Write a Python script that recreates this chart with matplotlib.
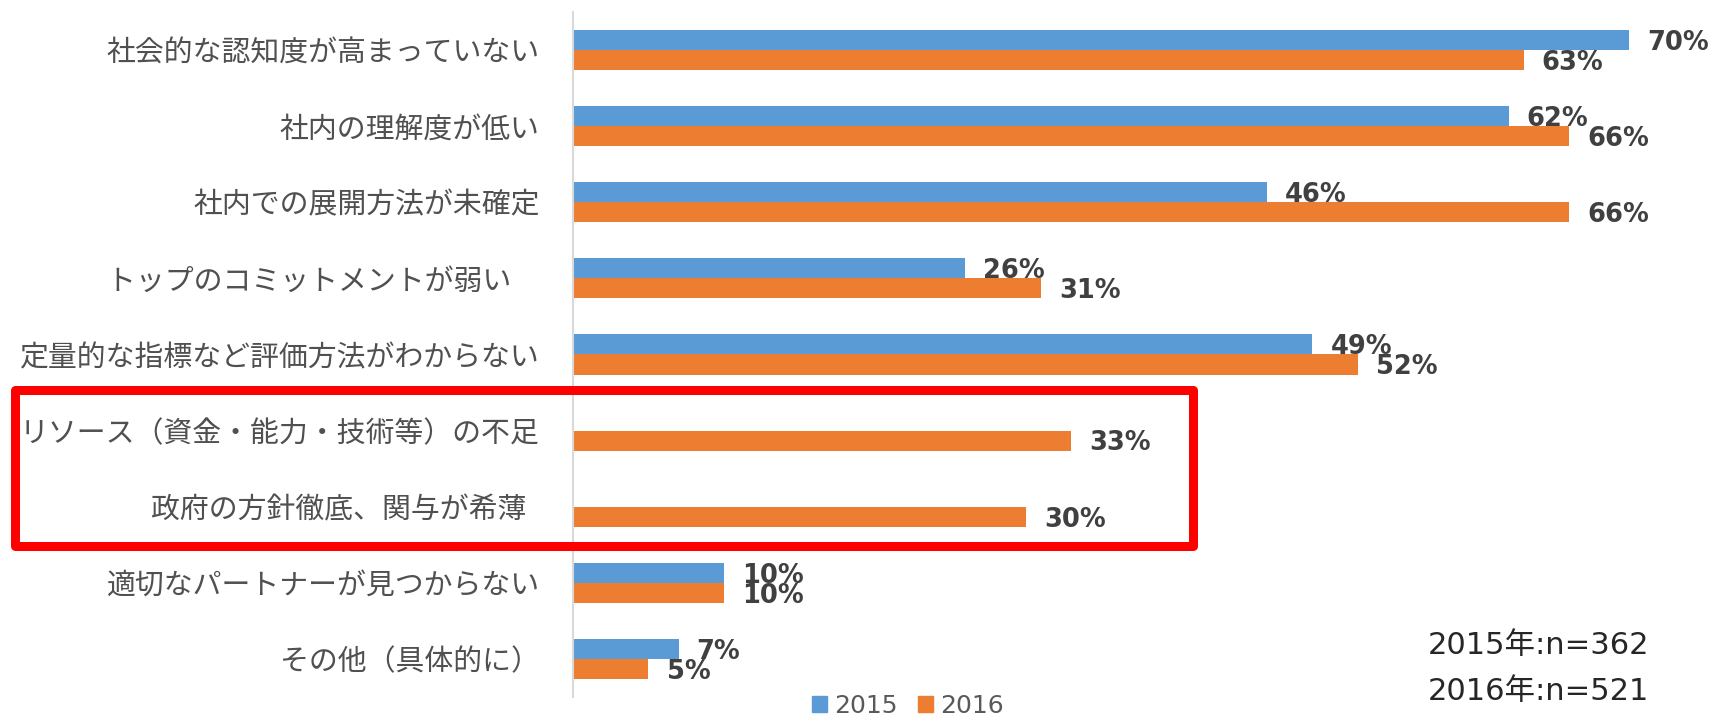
import numpy as np
import matplotlib.pyplot as plt
from matplotlib.patches import Rectangle, Patch

categories = [
    '社会的な認知度が高まっていない',
    '社内の理解度が低い',
    '社内での展開方法が未確定',
    'トップのコミットメントが弱い　',
    '定量的な指標など評価方法がわからない',
    'リソース（資金・能力・技術等）の不足',
    '政府の方針徹底、関与が希薄  ',
    '適切なパートナーが見つからない',
    'その他（具体的に）',
]
v2015 = [70, 62, 46, 26, 49, None, None, 10, 7]
v2016 = [63, 66, 66, 31, 52, 33, 30, 10, 5]
series_names = ['2015', '2016']
notes = ['2015年:n=362', '2016年:n=521']

blue = '#5B9BD5'
orange = '#ED7D31'

W, H = 1726, 718
fig = plt.figure(figsize=(W / 100, H / 100), dpi=100)
ax = fig.add_axes([573 / W, 1 - 697 / H, 1 - 573 / W, (697 - 12) / H])

y = np.arange(len(categories))
bh = 0.263
for i, v in enumerate(v2015):
    if v is None:
        continue
    ax.barh(y[i] - bh / 2, v, height=bh, color=blue)
    ax.annotate(f'{v}%', xy=(v, y[i] - bh / 2), xytext=(13, -2),
                textcoords='offset points', va='center', ha='left',
                fontsize=18.5, fontweight='bold', color='#404040')
for i, v in enumerate(v2016):
    ax.barh(y[i] + bh / 2, v, height=bh, color=orange)
    ax.annotate(f'{v}%', xy=(v, y[i] + bh / 2), xytext=(13, -2),
                textcoords='offset points', va='center', ha='left',
                fontsize=18.5, fontweight='bold', color='#404040')

ax.set_xlim(0, 76.4)
ax.set_ylim(len(categories) - 0.5, -0.5)
ax.set_yticks(y)
ax.set_yticklabels(categories, fontsize=20.8, color='#505050',
                   family=['Noto Sans CJK JP', 'DejaVu Sans'])
ax.tick_params(axis='y', length=0, pad=24)
ax.set_xticks([])
for s in ['top', 'right', 'bottom']:
    ax.spines[s].set_visible(False)
ax.spines['left'].set_color('#D9D9D9')
ax.spines['left'].set_linewidth(1.5)
ax.patch.set_alpha(0)

# red highlight box
lw = 9
rect = Rectangle((14.5 / W, 1 - 545.5 / H), (1192.5 - 14.5) / W, (545.5 - 389.5) / H,
                 transform=fig.transFigure, fill=False, edgecolor='#FF0000',
                 linewidth=lw * 0.72, joinstyle='round', zorder=10)
fig.patches.append(rect)

handles = [Patch(color=blue, label=series_names[0]),
           Patch(color=orange, label=series_names[1])]
fig.legend(handles=handles, loc='center', bbox_to_anchor=(908 / W, 1 - 706 / H),
           ncol=2, frameon=False, fontsize=18, labelcolor='#595959',
           handlelength=0.6, handleheight=0.6, handletextpad=0.3,
           columnspacing=0.8, borderpad=0)

for j, t in enumerate(notes):
    fig.text(1428 / W, 1 - (645 + 47 * j) / H, t, fontsize=22, color='#262626',
             va='center', ha='left', family=['DejaVu Sans', 'Noto Sans CJK JP'])

fig.savefig('out.png', dpi=100)
